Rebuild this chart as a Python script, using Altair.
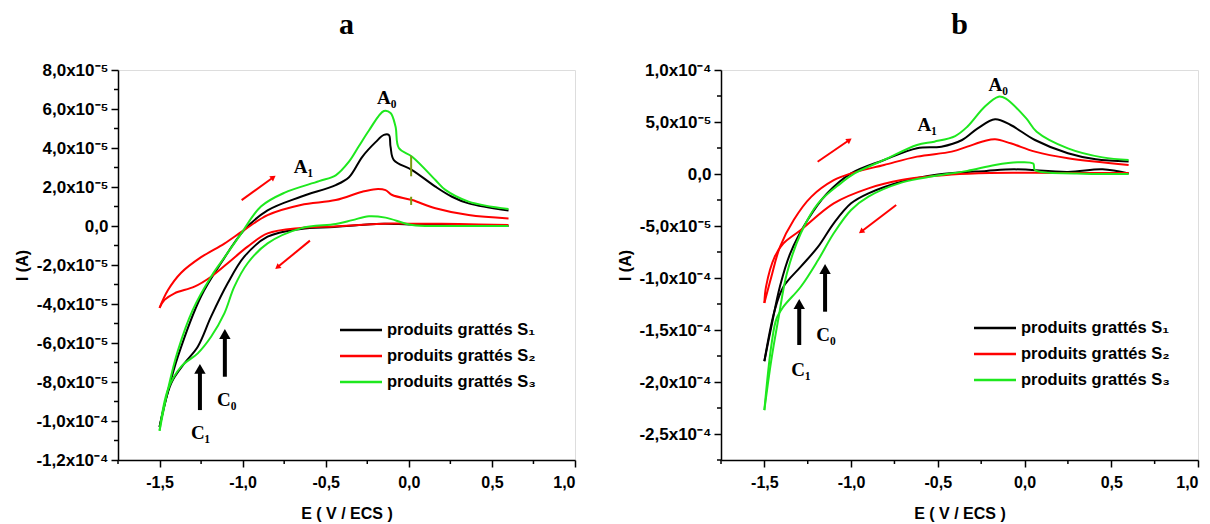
import altair as alt
import pandas as pd

# ---------------- data (current in units of 1e-5 A, potential in V/ECS) ----------------
SERIES = ["produits grattés S₁", "produits grattés S₂", "produits grattés S₃"]
COLORS = ["#000000", "#ff0000", "#1ee81e"]

# ---- panel a ----
a_s1_fwd_E = [-1.50, -1.45, -1.39, -1.25, -1.13, -0.99, -0.85, -0.65, -0.44, -0.36, -0.28, -0.20, -0.15, -0.12, -0.11, -0.09, 0.02, 0.16, 0.26, 0.36, 0.60]
a_s1_fwd_I = [-10.3, -8.5, -6.7, -3.6, -1.9, -0.2, 0.8, 1.5, 2.1, 2.5, 3.55, 4.3, 4.67, 4.67, 4.07, 3.38, 2.87, 2.02, 1.5, 1.16, 0.79]
a_s1_rev_E = [0.60, 0.40, 0.20, 0.00, -0.15, -0.30, -0.45, -0.65, -0.85, -0.99, -1.09, -1.19, -1.27, -1.35, -1.43, -1.50]
a_s1_rev_I = [0.0, 0.02, 0.05, 0.08, 0.12, 0.05, -0.05, -0.15, -0.55, -1.57, -2.94, -4.65, -6.19, -7.04, -8.07, -10.3]

a_s2_fwd_E = [-1.50, -1.45, -1.37, -1.25, -1.11, -0.99, -0.85, -0.65, -0.44, -0.28, -0.20, -0.14, -0.10, 0.02, 0.16, 0.36, 0.60]
a_s2_fwd_I = [-4.2, -3.3, -2.4, -1.6, -0.9, -0.2, 0.56, 1.08, 1.33, 1.76, 1.89, 1.84, 1.59, 1.33, 0.91, 0.56, 0.39]
a_s2_rev_E = [0.60, 0.30, 0.00, -0.15, -0.30, -0.45, -0.65, -0.85, -0.97, -1.09, -1.19, -1.29, -1.41, -1.47, -1.50]
a_s2_rev_I = [0.05, 0.1, 0.12, 0.12, 0.05, -0.02, -0.1, -0.38, -1.06, -1.91, -2.6, -3.11, -3.45, -3.79, -4.2]

a_s3_fwd_E = [-1.50, -1.45, -1.39, -1.30, -1.19, -1.10, -1.01, -0.89, -0.75, -0.54, -0.44, -0.36, -0.30, -0.24, -0.15, -0.11, -0.08, -0.06, 0.02, 0.16, 0.22, 0.36, 0.60]
a_s3_fwd_I = [-10.5, -8.4, -6.4, -4.3, -2.6, -1.5, -0.4, 1.0, 1.7, 2.3, 2.6, 3.3, 4.1, 4.9, 5.9, 5.8, 5.1, 4.0, 3.55, 2.36, 1.85, 1.25, 0.87]
a_s3_rev_E = [0.60, 0.40, 0.20, 0.02, -0.14, -0.24, -0.34, -0.44, -0.65, -0.85, -0.97, -1.05, -1.11, -1.19, -1.27, -1.37, -1.45, -1.50]
a_s3_rev_I = [0.0, 0.0, 0.0, 0.05, 0.43, 0.5, 0.3, 0.1, -0.12, -0.89, -1.91, -3.11, -4.48, -5.68, -6.53, -7.21, -8.4, -10.5]

# small recorder glitches near E = 0 in panel a (olive vertical marks)
a_glitch_E = [0.014, 0.014]
a_glitch_I0 = [2.55, 1.08]
a_glitch_I1 = [3.6, 1.5]

# ---- panel b ----
b_s1_fwd_E = [-1.50, -1.46, -1.41, -1.35, -1.25, -1.14, -1.00, -0.81, -0.62, -0.48, -0.36, -0.27, -0.17, -0.08, 0.06, 0.25, 0.41, 0.60]
b_s1_fwd_I = [-18.0, -14.7, -10.8, -7.6, -4.4, -1.9, 0.06, 1.35, 2.47, 2.63, 3.27, 4.39, 5.26, 4.71, 3.27, 1.99, 1.41, 1.19]
b_s1_rev_E = [0.60, 0.45, 0.25, -0.06, -0.22, -0.50, -0.71, -0.90, -1.00, -1.10, -1.19, -1.29, -1.39, -1.44, -1.50]
b_s1_rev_I = [0.05, 0.45, 0.2, 0.45, 0.3, -0.05, -0.74, -1.86, -2.82, -4.74, -6.99, -8.91, -10.84, -13.08, -18.0]

b_s2_fwd_E = [-1.50, -1.46, -1.41, -1.33, -1.23, -1.10, -1.00, -0.81, -0.62, -0.42, -0.33, -0.23, -0.17, -0.08, 0.06, 0.25, 0.60]
b_s2_fwd_I = [-12.4, -9.9, -7.0, -4.4, -2.2, -0.6, 0.06, 0.87, 1.67, 2.15, 2.63, 3.17, 3.33, 2.95, 2.15, 1.51, 0.87]
b_s2_rev_E = [0.60, 0.20, -0.20, -0.42, -0.71, -0.90, -1.10, -1.29, -1.39, -1.44, -1.49, -1.50]
b_s2_rev_I = [0.1, 0.1, 0.1, -0.05, -0.58, -1.38, -2.82, -5.38, -6.67, -7.95, -10.8, -12.4]

b_s3_fwd_E = [-1.50, -1.46, -1.42, -1.37, -1.29, -1.19, -1.06, -0.98, -0.81, -0.62, -0.52, -0.40, -0.33, -0.23, -0.15, -0.11, 0.01, 0.07, 0.25, 0.45, 0.60]
b_s3_fwd_I = [-22.7, -17.9, -14.0, -9.55, -5.7, -2.82, -0.9, 0.06, 1.35, 2.79, 3.11, 3.65, 4.55, 6.47, 7.43, 7.27, 5.35, 4.07, 2.47, 1.6, 1.35]
b_s3_rev_E = [0.60, 0.30, 0.06, 0.05, -0.04, -0.17, -0.33, -0.52, -0.71, -0.90, -1.00, -1.10, -1.19, -1.29, -1.39, -1.43, -1.46, -1.50]
b_s3_rev_I = [0.0, 0.05, 0.38, 1.0, 1.12, 0.87, 0.3, -0.2, -0.83, -2.18, -3.46, -5.7, -8.27, -10.84, -12.76, -13.9, -16.5, -22.7]

# ---- axis ticks / labels ----
X_TICKS = [-1.5, -1.0, -0.5, 0.0, 0.5, 1.0]
X_LABELS = ["-1,5", "-1,0", "-0,5", "0,0", "0,5", "1,0"]
X_MINOR = [-1.75, -1.25, -0.75, -0.25, 0.25, 0.75]

A_Y_TICKS = [-12, -10, -8, -6, -4, -2, 0, 2, 4, 6, 8]
A_Y_LABELS = ["-1,2x10⁻⁴", "-1,0x10⁻⁴", "-8,0x10⁻⁵", "-6,0x10⁻⁵", "-4,0x10⁻⁵", "-2,0x10⁻⁵",
              "0,0", "2,0x10⁻⁵", "4,0x10⁻⁵", "6,0x10⁻⁵", "8,0x10⁻⁵"]
A_Y_MINOR = [-11, -9, -7, -5, -3, -1, 1, 3, 5, 7]

B_Y_TICKS = [-25, -20, -15, -10, -5, 0, 5, 10]
B_Y_LABELS = ["-2,5x10⁻⁴", "-2,0x10⁻⁴", "-1,5x10⁻⁴", "-1,0x10⁻⁴", "-5,0x10⁻⁵", "0,0", "5,0x10⁻⁵", "1,0x10⁻⁴"]
B_Y_MINOR = [-27.5, -22.5, -17.5, -12.5, -7.5, -2.5, 2.5, 7.5]

# ---- annotations ----
PEAK_TXT = ["A₀", "A₁", "C₀", "C₁"]
A_PEAK_E = [-0.133, -0.634, -1.096, -1.253]
A_PEAK_I = [6.55, 3.04, -8.92, -10.63]
B_PEAK_E = [-0.152, -0.561, -1.145, -1.289]
B_PEAK_I = [8.56, 4.71, -15.48, -18.85]

# black vertical arrows (E, foot, head)
A_BARROW_E = [-1.257, -1.107]
A_BARROW_I0 = [-9.44, -7.73]
A_BARROW_I1 = [-7.33, -5.54]
B_BARROW_E = [-1.299, -1.150]
B_BARROW_I0 = [-16.44, -13.24]
B_BARROW_I1 = [-12.5, -9.13]

# red scan-direction arrows (start -> end)
A_RARROW_E0 = [-1.006, -0.595]
A_RARROW_I0 = [1.33, -0.75]
A_RARROW_E1 = [-0.815, -0.791]
A_RARROW_I1 = [2.50, -2.12]
A_RARROW_ANG = [54, 231]
B_RARROW_E0 = [-1.193, -0.740]
B_RARROW_I0 = [1.18, -2.98]
B_RARROW_E1 = [-1.010, -0.942]
B_RARROW_I1 = [3.27, -5.55]
B_RARROW_ANG = [55, 233]

SANS = "Liberation Sans"
SERIF = "Liberation Serif"


def curves(parts):
    rows = []
    for name, branches in zip(SERIES, parts):
        for bi, (E, I) in enumerate(branches):
            for k, (e, i) in enumerate(zip(E, I)):
                rows.append({"E": e, "I": i, "serie": name, "branch": f"{name}-{bi}", "k": k})
    return pd.DataFrame(rows)


def label_expr(labels, start, step):
    arr = "[" + ",".join("'" + s + "'" for s in labels) + "]"
    return f"{arr}[round((datum.value - ({start})) / {step})]"


def panel(title, df, ydom, yticks, ylabels, yminor, w, h,
          peak_E, peak_I, bE, bI0, bI1, rE0, rI0, rE1, rI1, rang, leg_x, leg_y, glitch=None):
    axis_common = dict(
        domainColor="black", domainWidth=1.5, tickColor="black", tickWidth=1.5, tickSize=7,
        labelFont=SANS, labelFontWeight="bold", labelColor="black",
        titleFont=SANS, titleFontWeight="bold", titleFontSize=16, titleColor="black", grid=False,
    )
    xaxis = alt.Axis(values=X_TICKS, labelExpr=label_expr(X_LABELS, -1.5, 0.5), labelFontSize=16,
                     title="E ( V / ECS )", labelPadding=7, titlePadding=15, **axis_common)
    yaxis = alt.Axis(values=yticks, labelExpr=label_expr(ylabels, yticks[0], yticks[1] - yticks[0]),
                     labelFontSize=17, title="I (A)", labelPadding=3, titlePadding=12,
                     minExtent=76, maxExtent=76, **axis_common)
    xs = alt.Scale(domain=[-1.75, 1.0], nice=False, zero=False)
    ys = alt.Scale(domain=ydom, nice=False, zero=False)

    def X(f):
        return alt.X(f, type="quantitative", scale=xs, axis=xaxis)

    def Y(f):
        return alt.Y(f, type="quantitative", scale=ys, axis=yaxis)

    lines = alt.Chart(df).mark_line(strokeWidth=2, interpolate="catmull-rom").encode(
        x=X("E"), y=Y("I"),
        color=alt.Color("serie:N", scale=alt.Scale(domain=SERIES, range=COLORS), legend=None),
        detail="branch:N", order="k:Q",
    )

    ymin = alt.Chart(pd.DataFrame({"I": yminor})).mark_rule(color="black", strokeWidth=1.5).encode(
        y=Y("I"), x=alt.value(0), x2=alt.value(-4))
    xmin = alt.Chart(pd.DataFrame({"E": X_MINOR})).mark_rule(color="black", strokeWidth=1.5).encode(
        x=X("E"), y=alt.value(h), y2=alt.value(h + 4))

    peaks = alt.Chart(pd.DataFrame({"E": peak_E, "I": peak_I, "t": PEAK_TXT})).mark_text(
        font=SERIF, fontWeight="bold", fontSize=19, color="black", baseline="middle", align="center"
    ).encode(x=X("E"), y=Y("I"), text="t:N")

    bdf = pd.DataFrame({"E": bE, "I": bI0, "I2": bI1})
    bshaft = alt.Chart(bdf).mark_rule(color="black", strokeWidth=4).encode(
        x=X("E"), y=Y("I"), y2="I2")
    bhead = alt.Chart(bdf).mark_point(shape="triangle-up", filled=True, color="black", opacity=1,
                                      size=130).encode(x=X("E"), y=Y("I2"))

    rdf = pd.DataFrame({"E": rE0, "I": rI0, "E2": rE1, "I2": rI1, "a": rang})
    rshaft = alt.Chart(rdf).mark_rule(color="#ff0000", strokeWidth=2).encode(
        x=X("E"), y=Y("I"), x2="E2", y2="I2")
    rhead = alt.Chart(rdf).mark_point(shape="triangle-up", filled=True, color="#ff0000", opacity=1,
                                      size=40).encode(x=X("E2"), y=Y("I2"),
                                                      angle=alt.Angle("a:Q", scale=None))

    ttl = alt.Chart(pd.DataFrame({"t": [title]})).mark_text(
        font=SERIF, fontWeight="bold", fontSize=30, color="black", baseline="middle", align="center"
    ).encode(text="t:N", x=alt.value(w / 2), y=alt.value(-45))

    layers = [lines, ymin, xmin, bshaft, bhead, rshaft, rhead, peaks, ttl]
    if glitch is not None:
        gdf = pd.DataFrame({"E": glitch[0], "I": glitch[1], "I2": glitch[2]})
        layers.append(alt.Chart(gdf).mark_rule(color="#7a9a10", strokeWidth=2).encode(
            x=X("E"), y=Y("I"), y2="I2"))

    for i, (name, col) in enumerate(zip(SERIES, COLORS)):
        ly = leg_y + i * 26
        layers.append(
            alt.Chart(pd.DataFrame({"s": [name]})).mark_rule(color=col, strokeWidth=2.5).encode(
                x=alt.value(leg_x), x2=alt.value(leg_x + 42), y=alt.value(ly)))
        layers.append(
            alt.Chart(pd.DataFrame({"s": [name]})).mark_text(
                font=SANS, fontWeight="bold", fontSize=16.5, color="black", align="left", baseline="middle"
            ).encode(text="s:N", x=alt.value(leg_x + 47), y=alt.value(ly)))

    return alt.layer(*layers).properties(width=w, height=h)


dfa = curves([
    [(a_s1_fwd_E, a_s1_fwd_I), (a_s1_rev_E, a_s1_rev_I)],
    [(a_s2_fwd_E, a_s2_fwd_I), (a_s2_rev_E, a_s2_rev_I)],
    [(a_s3_fwd_E, a_s3_fwd_I), (a_s3_rev_E, a_s3_rev_I)],
])
dfb = curves([
    [(b_s1_fwd_E, b_s1_fwd_I), (b_s1_rev_E, b_s1_rev_I)],
    [(b_s2_fwd_E, b_s2_fwd_I), (b_s2_rev_E, b_s2_rev_I)],
    [(b_s3_fwd_E, b_s3_fwd_I), (b_s3_rev_E, b_s3_rev_I)],
])

pa = panel("a", dfa, [-12, 8], A_Y_TICKS, A_Y_LABELS, A_Y_MINOR, 457, 390,
           A_PEAK_E, A_PEAK_I, A_BARROW_E, A_BARROW_I0, A_BARROW_I1,
           A_RARROW_E0, A_RARROW_I0, A_RARROW_E1, A_RARROW_I1, A_RARROW_ANG, 222, 260,
           glitch=(a_glitch_E, a_glitch_I0, a_glitch_I1))
pb = panel("b", dfb, [-27.5, 10], B_Y_TICKS, B_Y_LABELS, B_Y_MINOR, 477, 390,
           B_PEAK_E, B_PEAK_I, B_BARROW_E, B_BARROW_I0, B_BARROW_I1,
           B_RARROW_E0, B_RARROW_I0, B_RARROW_E1, B_RARROW_I1, B_RARROW_ANG, 253, 258)

chart = alt.hconcat(pa, pb, spacing=39).properties(
    padding={"left": 5, "top": 1, "right": 0, "bottom": 0}
).configure_view(stroke=None).configure(background="white")

chart.save("out.html", embed_options={"renderer": "svg", "actions": False})
